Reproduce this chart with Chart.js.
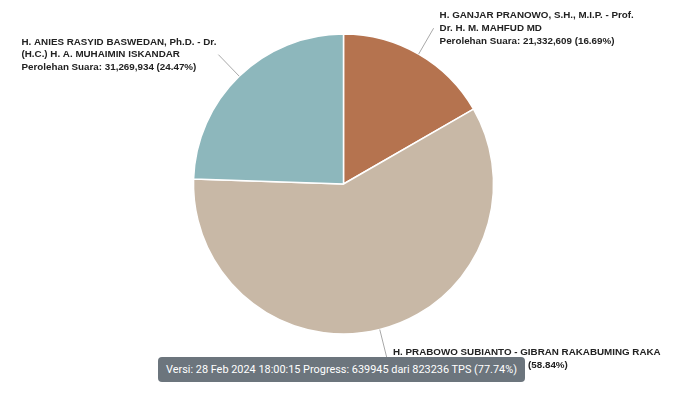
<!DOCTYPE html>
<html>
<head>
<meta charset="utf-8">
<script src="https://cdn.jsdelivr.net/npm/chart.js@4.4.1/dist/chart.umd.min.js"></script>
<style>
    body { margin: 0; background: #fff; }
    #wrap { position: relative; width: 700px; height: 393px; }
    #versi {
        position: absolute;
        left: 158px;
        top: 357px;
        background: #6c757d;
        color: #fff;
        font-family: Roboto, sans-serif;
        font-size: 10.9px;
        line-height: 15px;
        padding: 5px 8px;
        border-radius: 4px;
        white-space: nowrap;
    }
</style>
</head>
<body>
<div id="wrap">
    <canvas id="myChart" width="700" height="393"></canvas>
    <div id="versi">Versi: 28 Feb 2024 18:00:15 Progress: 639945 dari 823236 TPS (77.74%)</div>
</div>
<script>
const paslon = [
    ["H. GANJAR PRANOWO, S.H., M.I.P. - Prof.", "Dr. H. M. MAHFUD MD"],
    ["H. PRABOWO SUBIANTO - GIBRAN RAKABUMING RAKA"],
    ["H. ANIES RASYID BASWEDAN, Ph.D. - Dr.", "(H.C.) H. A. MUHAIMIN ISKANDAR"]
];
const suara = [21332609, 75197457, 31269934];
const warna = ["#b5734f", "#c8b8a6", "#8db7bc"];

const total = suara.reduce((a, b) => a + b, 0);

// labels with leader lines, like the original
const labelPlugin = {
    id: "labelPlugin",
    afterDraw(chart) {
        const ctx = chart.ctx;
        const arcs = chart.getDatasetMeta(0).data;
        ctx.save();
        ctx.font = "bold 9.8px 'Liberation Sans', Arial, sans-serif";
        ctx.textBaseline = "middle";
        arcs.forEach((arc, i) => {
            const mid = (arc.startAngle + arc.endAngle) / 2;
            const r = arc.outerRadius;
            const x1 = arc.x + Math.cos(mid) * r;
            const y1 = arc.y + Math.sin(mid) * r;
            const x2 = arc.x + Math.cos(mid) * (r + 30);
            const y2 = arc.y + Math.sin(mid) * (r + 30);

            ctx.strokeStyle = "#a8a8a8";
            ctx.lineWidth = 1;
            ctx.beginPath();
            ctx.moveTo(x1, y1);
            ctx.lineTo(x2, y2);
            ctx.stroke();

            const pct = (suara[i] / total * 100).toFixed(2);
            const lines = paslon[i].concat(["Perolehan Suara: " + suara[i].toLocaleString("en-US") + " (" + pct + "%)"]);
            const lh = 12.7;
            const w = Math.max(...lines.map(t => ctx.measureText(t).width));
            const left = Math.cos(mid) < 0;
            const tx = left ? x2 - 2 - w : x2 + 6;
            const ty = y2 - (lines.length - 1) * lh / 2;
            ctx.fillStyle = "#222";
            ctx.textAlign = "left";
            lines.forEach((t, k) => ctx.fillText(t, tx, ty + k * lh));
        });
        ctx.restore();
    }
};

new Chart("myChart", {
    type: "pie",
    data: {
        labels: paslon.map(p => p.join(" ")),
        datasets: [{
            data: suara,
            backgroundColor: warna,
            borderColor: "#fff",
            borderWidth: 1.5
        }]
    },
    options: {
        responsive: false,
        animation: false,
        radius: 150,
        layout: {
            padding: { left: 0, right: 13, top: 34, bottom: 59 }
        },
        plugins: {
            legend: { display: false },
            tooltip: { enabled: false }
        }
    },
    plugins: [labelPlugin]
});
</script>
</body>
</html>
